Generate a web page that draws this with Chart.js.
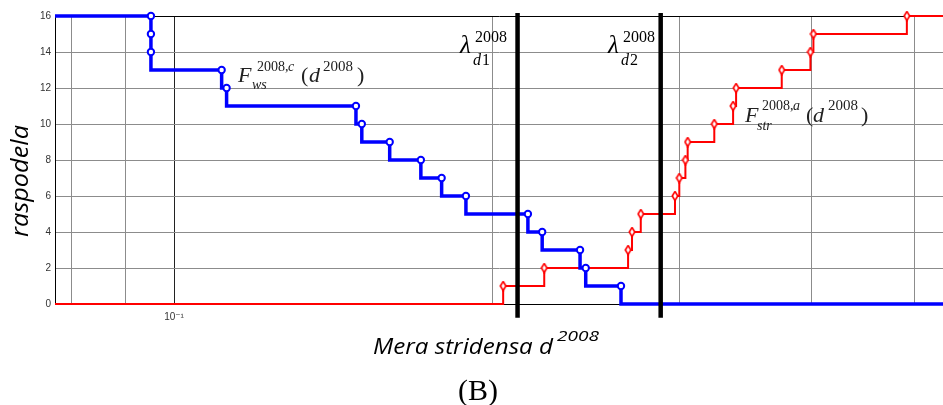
<!DOCTYPE html>
<html>
<head>
<meta charset="utf-8">
<script src="https://cdn.jsdelivr.net/npm/chart.js@4/dist/chart.umd.min.js"></script>
<style>
  html, body { margin: 0; padding: 0; background: #fff; }
  #wrap { width: 943px; height: 405px; }
</style>
</head>
<body>
<div id="wrap"><canvas id="chart" width="943" height="405"></canvas></div>
<script>
// x axis limits (log scale) and tick positions
const xMin = 0.0772;
const xMax = 0.532;
const xTicks = [0.08, 0.09, 0.1, 0.2, 0.3, 0.4, 0.5];
const yTicks = [0, 2, 4, 6, 8, 10, 12, 14, 16];

// F_ws (blue, decreasing) – jump points and the level just before each drop
const wsX = [0.0951, 0.0951, 0.0951, 0.1109, 0.1121, 0.1485, 0.1504, 0.1598,
             0.1710, 0.1789, 0.1886, 0.2158, 0.2226, 0.2417, 0.2447, 0.2642];
const wsY = [16, 15, 14, 13, 12, 11, 10, 9, 8, 7, 6, 5, 4, 3, 2, 1];

// F_str (red, increasing) – jump points and level after each rise
const strX = [0.2045, 0.2236, 0.2683, 0.2706, 0.2758, 0.2971, 0.2999, 0.3039,
              0.3054, 0.3236, 0.3371, 0.3393, 0.3747, 0.3988, 0.4014, 0.4918];
const strY = [1, 2, 3, 4, 5, 6, 7, 8, 9, 10, 11, 12, 13, 14, 15, 16];

// thresholds lambda_d1, lambda_d2 (thick black lines, drawn a bit past the axes)
const lambdaD1 = 0.2110;
const lambdaD2 = 0.2880;
const lambdaSpan = [-0.76, 16.16];

const wsData = [{ x: xMin, y: 16 }, ...wsX.map((x, i) => ({ x, y: wsY[i] })), { x: xMax, y: 0 }];
const strData = [{ x: xMin, y: 0 }, ...strX.map((x, i) => ({ x, y: strY[i] })), { x: xMax, y: 16 }];

// narrow diamond marker like matlab's 'd'
const diamond = document.createElement("canvas");
diamond.width = 8; diamond.height = 11;
(() => {
  const c = diamond.getContext("2d");
  c.beginPath();
  c.moveTo(4, 1); c.lineTo(6.8, 5.5); c.lineTo(4, 10); c.lineTo(1.2, 5.5); c.closePath();
  c.fillStyle = "#fff"; c.fill();
  c.strokeStyle = "#ff0000"; c.lineWidth = 1.6; c.stroke();
})();

const endsHidden = (n, r) => (ctx) => (ctx.dataIndex === 0 || ctx.dataIndex === n - 1 ? 0 : r);

function fitText(ctx, text, x, y, font, w) {
  ctx.font = font;
  const m = ctx.measureText(text).width;
  ctx.save();
  ctx.translate(x, y);
  ctx.scale(w / m, 1);
  ctx.fillText(text, 0, 0);
  ctx.restore();
}

function pieces(ctx, list) {
  for (const p of list) {
    ctx.font = p.f;
    ctx.fillText(p.t, p.x, p.y);
  }
}

const SERIF = '"Liberation Serif", "Times New Roman", serif';
const big = `22px ${SERIF}`, bigI = `italic 22px ${SERIF}`;
const sm = `14px ${SERIF}`, smI = `italic 14px ${SERIF}`;

const labelsPlugin = {
  id: "labels",
  afterDraw(chart) {
    const ctx = chart.ctx;
    ctx.save();
    ctx.textAlign = "left";
    ctx.textBaseline = "alphabetic";

    // F_ws^{2008,c}(d^2008)
    ctx.fillStyle = "#222";
    pieces(ctx, [
      { t: "F", x: 238, y: 82, f: bigI },
      { t: "2008,", x: 257, y: 71, f: sm },
      { t: "c", x: 288, y: 71, f: smI },
      { t: "ws", x: 252, y: 89, f: smI },
      { t: "(", x: 301, y: 82, f: big },
      { t: "d", x: 309, y: 82, f: bigI },
      { t: "2008", x: 323, y: 71, f: `15px ${SERIF}` },
      { t: ")", x: 357, y: 82, f: big },
    ]);
    // F_str^{2008,a}(d^2008)
    pieces(ctx, [
      { t: "F", x: 745, y: 122, f: bigI },
      { t: "2008,", x: 762, y: 110, f: sm },
      { t: "a", x: 793, y: 110, f: smI },
      { t: "str", x: 757, y: 130, f: smI },
      { t: "(", x: 806, y: 122, f: big },
      { t: "d", x: 813, y: 122, f: bigI },
      { t: "2008", x: 828, y: 110, f: `15px ${SERIF}` },
      { t: ")", x: 861, y: 122, f: big },
    ]);
    // lambda labels
    ctx.fillStyle = "#000";
    for (const [lx, sub] of [[460, "1"], [608, "2"]]) {
      pieces(ctx, [
        { t: "λ", x: lx, y: 53, f: `italic 25px ${SERIF}` },
        { t: "2008", x: lx + 15, y: 42, f: `16px ${SERIF}` },
        { t: "d", x: lx + 13, y: 65, f: `italic 16px ${SERIF}` },
        { t: sub, x: lx + 22, y: 65, f: `16px ${SERIF}` },
      ]);
    }

    // axis titles
    ctx.fillStyle = "#000";
    fitText(ctx, "Mera stridensa d", 373, 354, 'italic 21px "Open Sans", sans-serif', 180);
    fitText(ctx, "2008", 557, 341, 'italic 14px "Open Sans", sans-serif', 42);
    ctx.save();
    ctx.translate(28, 237);
    ctx.rotate(-Math.PI / 2);
    fitText(ctx, "raspodela", 0, 0, 'italic 24px "Open Sans", sans-serif', 112);
    ctx.restore();
    fitText(ctx, "(B)", 458, 400, `29px ${SERIF}`, 40);
    ctx.restore();
  },
};

new Chart(document.getElementById("chart"), {
  type: "line",
  data: {
    datasets: [
      {
        label: "lambda_d1",
        data: [{ x: lambdaD1, y: lambdaSpan[0] }, { x: lambdaD1, y: lambdaSpan[1] }],
        borderColor: "#000", borderWidth: 4.5, pointRadius: 0, clip: false, order: 0,
      },
      {
        label: "lambda_d2",
        data: [{ x: lambdaD2, y: lambdaSpan[0] }, { x: lambdaD2, y: lambdaSpan[1] }],
        borderColor: "#000", borderWidth: 4.5, pointRadius: 0, clip: false, order: 0,
      },
      {
        label: "F_ws",
        data: wsData,
        stepped: "after",
        borderColor: "#0000ff", borderWidth: 3.5,
        pointStyle: "circle",
        pointRadius: endsHidden(wsData.length, 3.2),
        pointBorderWidth: 2, pointBorderColor: "#0000ff", pointBackgroundColor: "#fff",
        clip: false, order: 1,
      },
      {
        label: "F_str",
        data: strData,
        stepped: "before",
        borderColor: "#ff0000", borderWidth: 2,
        pointStyle: diamond,
        pointRadius: endsHidden(strData.length, 4),
        clip: false, order: 2,
      },
    ],
  },
  options: {
    responsive: false,
    animation: false,
    events: [],
    layout: { padding: { top: 16, right: 0, left: 0, bottom: 0 } },
    plugins: { legend: { display: false }, tooltip: { enabled: false } },
    scales: {
      x: {
        type: "logarithmic",
        min: xMin, max: xMax,
        afterBuildTicks: (s) => { s.ticks = xTicks.map((v) => ({ value: v })); },
        afterFit: (s) => { s.height = 101; },
        ticks: {
          autoSkip: false, maxRotation: 0, padding: 7,
          color: "#333",
          font: { family: '"Liberation Sans", "DejaVu Sans", sans-serif', size: 10 },
          callback: (v) => (v === 0.1 ? "10⁻¹" : ""),
        },
        grid: {
          drawTicks: false,
          color: (c) => (c.tick && c.tick.value === 0.1 ? "#222" : "#8c8c8c"),
          lineWidth: 1,
        },
        border: { color: "#000", width: 1 },
      },
      y: {
        min: 0, max: 16,
        afterBuildTicks: (s) => { s.ticks = yTicks.map((v) => ({ value: v })); },
        afterFit: (s) => { s.width = 55; },
        ticks: {
          padding: 4, color: "#333",
          font: { family: '"Liberation Sans", "DejaVu Sans", sans-serif', size: 10 },
        },
        grid: {
          drawTicks: false,
          color: (c) => (c.tick && (c.tick.value === 16 || c.tick.value === 0) ? "#000" : "#8c8c8c"),
          lineWidth: 1,
        },
        border: { color: "#000", width: 1 },
      },
    },
  },
  plugins: [labelsPlugin],
});
</script>
</body>
</html>
